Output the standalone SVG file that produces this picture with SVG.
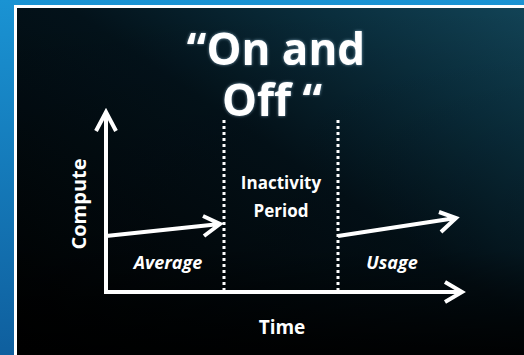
<svg xmlns="http://www.w3.org/2000/svg" width="524" height="355" viewBox="0 0 524 355">
<defs>
<linearGradient id="blue" x1="0" y1="0" x2="0" y2="1">
<stop offset="0" stop-color="#1a93d3"/>
<stop offset="1" stop-color="#0f5f9e"/>
</linearGradient>
<linearGradient id="panel" x1="0" y1="1" x2="1" y2="0">
<stop offset="0" stop-color="#000000"/>
<stop offset="0.55" stop-color="#03121a"/>
<stop offset="0.8" stop-color="#0a2e3d"/>
<stop offset="1" stop-color="#124356"/>
</linearGradient>
<linearGradient id="panel2" x1="0" y1="0" x2="0" y2="1">
<stop offset="0" stop-color="#000" stop-opacity="0"/>
<stop offset="0.7" stop-color="#000" stop-opacity="0.2"/>
<stop offset="1" stop-color="#000" stop-opacity="0.9"/>
</linearGradient>
<filter id="glow" x="-20%" y="-20%" width="140%" height="140%">
<feGaussianBlur in="SourceAlpha" stdDeviation="2"/>
<feFlood flood-color="#bfe6ff" flood-opacity="0.6"/>
<feComposite operator="in" in2="SourceAlpha"/>
<feGaussianBlur stdDeviation="1.5"/>
<feMerge><feMergeNode/><feMergeNode in="SourceGraphic"/></feMerge>
</filter>
<style>
.t{fill:#fff;font-family:"Open Sans","Noto Sans","DejaVu Sans",sans-serif;font-weight:bold;text-anchor:middle}
.title{font-size:44px}
.lbl{font-size:17px}
.it{font-style:italic;font-size:18px}
.ax{stroke:#fff;stroke-width:4;fill:none;stroke-linecap:butt;stroke-linejoin:miter}
.dot{stroke:#fff;stroke-width:3;stroke-dasharray:3 3;fill:none}
</style>
</defs>
<rect x="0" y="0" width="524" height="355" fill="url(#blue)"/>
<rect x="14" y="5" width="510" height="350" fill="#ffffff"/>
<rect x="17" y="8" width="507" height="347" fill="url(#panel)"/>
<rect x="17" y="8" width="507" height="347" fill="url(#panel2)"/>
<g id="title" filter="url(#glow)">
<text class="t title" x="276" y="65">“On and</text>
<text class="t title" x="272" y="116">Off “</text>
</g>
<g id="connectors">
<path class="ax" d="M106,292 V112 M96,131 L106,112 L116,131"/>
<path class="ax" d="M104,292 H462 M445,282 L462,292 L445,302"/>
<path class="dot" d="M224,120 V292"/>
<path class="dot" d="M338,120 V292"/>
<path class="ax" d="M106,236 L220,224 M203,216 L220,224 L204,236"/>
<path class="ax" d="M338,236 L456,218 M439,212 L456,218 L441,232"/>
</g>
<g id="compute"><text class="t lbl" style="font-size:20px" transform="translate(86,204) rotate(-90)">Compute</text></g>
<g id="average"><text class="t lbl it" x="168" y="269">Average</text></g>
<g id="inactivity"><text class="t lbl" x="281" y="189">Inactivity</text><text class="t lbl" x="281" y="217">Period</text></g>
<g id="usage"><text class="t lbl it" x="392" y="269">Usage</text></g>
<g id="time"><text class="t lbl" style="font-size:19px" x="282" y="334">Time</text></g>
</svg>
